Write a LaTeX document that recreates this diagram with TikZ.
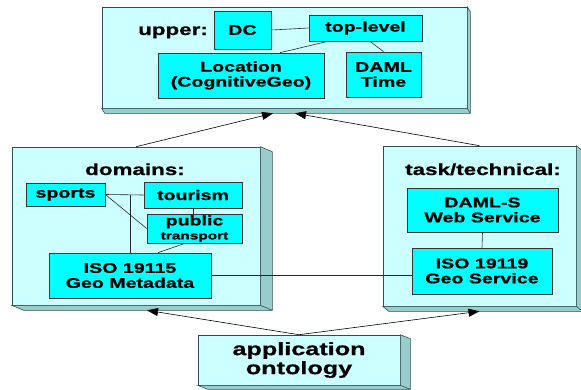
\documentclass[tikz,border=0pt]{standalone}
\usepackage{fontspec}
\setmainfont{Liberation Sans}[FakeStretch = 1.4, FakeBold = 0.8]
\usetikzlibrary{arrows.meta}

\definecolor{paleface}{HTML}{CCFFFF}
\definecolor{sideface}{HTML}{99CCCC}
\definecolor{termfill}{HTML}{00FFFF}
\definecolor{edgegray}{HTML}{2F4F4F}

% side and bottom faces of a layer box: name, depth right, depth down
\newcommand{\layerdepth}[3]{%
    \filldraw [fill = sideface, draw = edgegray, line width = 0.6pt]
          (#1.north east) -- ++(#2, #3)
          -- ([shift = {(#2, #3)}]#1.south east)
          -- ([shift = {(#2, #3)}]#1.south west)
          -- (#1.south west) -- (#1.south east) -- cycle;
    \draw [edgegray, line width = 0.6pt]
          (#1.south east) -- ([shift = {(#2, #3)}]#1.south east);}

\begin{document}
\begin{tikzpicture}[x = 1pt, y = -1pt,
        font = \bfseries\fontsize{14}{15}\selectfont,
        layer/.style = {draw = edgegray, line width = 0.6pt, fill = paleface,
                        inner sep = 0pt},
        term/.style = {draw = black!80, line width = 0.7pt, fill = termfill,
                       inner sep = 0pt, align = center},
        heading/.style = {anchor = base, font = \bfseries\fontsize{16}{18}\selectfont},
        link/.style = {black!85, line width = 0.6pt},
        uses/.style = {black, line width = 0.6pt, -{Triangle[length = 11pt, width = 8pt]}}]

            \useasboundingbox (0, 0) rectangle (581, 389);

            % the four layers
            \node [layer, minimum width = 365, minimum height = 101] (upper) at (284.5, 57.5) {};
            \node [layer, minimum width = 248, minimum height = 158] (domains) at (136, 226) {};
            \node [layer, minimum width = 193, minimum height = 160] (task) at (479.5, 226) {};
            \node [layer, minimum width = 202, minimum height = 50, align = center,
                   font = \bfseries\fontsize{18}{19}\selectfont] (application) at (299, 360)
                  {application\\ontology};

            \layerdepth{upper}{3}{5}
            \layerdepth{domains}{12}{5}
            \layerdepth{task}{6}{5}
            \layerdepth{application}{10}{4}

            % upper
            \node [heading] (upperlabel) at (173, 35) {upper:};
            \node [term, minimum width = 57, minimum height = 38] (dc) at (242.5, 30) {DC};
            \node [term, minimum width = 113, minimum height = 26] (toplevel) at (365.5, 28) {top-level};
            \node [term, minimum width = 166, minimum height = 45] (location) at (241, 75.5)
                  {Location\\(CognitiveGeo)};
            \node [term, minimum width = 75, minimum height = 45] (damltime) at (383.5, 74.5)
                  {DAML\\Time};

            % domains
            \node [heading] (domainslabel) at (135, 175) {domains:};
            \node [term, minimum width = 79, minimum height = 23] (sports) at (65.5, 194.5) {sports};
            \node [term, minimum width = 98, minimum height = 26] (tourism) at (193, 195) {tourism};
            \node [term, minimum width = 95, minimum height = 29] (public) at (194.5, 228.5)
                  {public\\[-1pt]{\fontsize{11}{12}\selectfont transport}};
            \node [term, minimum width = 162, minimum height = 45] (iso115) at (130, 275.5)
                  {ISO 19115\\Geo Metadata};

            % task/technical
            \node [heading] (tasklabel) at (483, 175) {task/technical:};
            \node [term, minimum width = 151, minimum height = 44] (damls) at (482.5, 210)
                  {DAML-S\\Web Service};
            \node [term, minimum width = 140, minimum height = 46] (iso119) at (482, 271)
                  {ISO 19119\\Geo Service};

            \draw [link] (dc.east) -- (toplevel.west); % DC - top-level
            \draw [link] ([xshift = -37.5]toplevel.south) -- ([xshift = 39]location.north);
            \draw [link] ([xshift = 4.5]toplevel.south) -- (damltime.north);
            \draw [link] (sports.east) -- (tourism.west); % sports - tourism
            \draw [link] (sports.east) -- (public.west); % sports - public transport
            \draw [link] (iso115.north) -- (iso115.north |- sports.east);
            \draw [link] (tourism.south) -- (tourism.south |- public.north);
            \draw [link] ([xshift = -9.5]public.south) -- ([xshift = 28]iso115.north);
            \draw [link] (iso115.east |- 0, 275) -- (iso119.west |- 0, 275); % 19115 - 19119
            \draw [link] (damls.south) -- (iso119.north); % DAML-S - 19119

            \draw [uses] (domains.north) -- ([shift = {(-11.5, 5)}]upper.south);
            \draw [uses] (task.north) -- ([shift = {(10.5, 5)}]upper.south);
            \draw [uses] (application.north) -- ([shift = {(11, 5)}]domains.south);
            \draw [uses] (application.north) -- ([shift = {(0, 5)}]task.south);
        \end{tikzpicture}
\end{document}
